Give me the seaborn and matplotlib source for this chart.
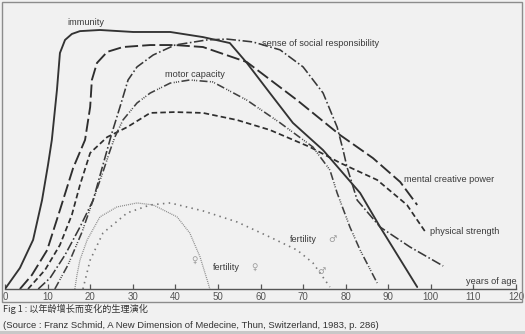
import matplotlib
matplotlib.use("Agg")
import matplotlib.pyplot as plt
import seaborn as sns
import pandas as pd
from matplotlib.patches import Rectangle

# ---------------- data (age in years, relative level 0-100) ----------------
immunity_age = [0, 3.5, 6.6, 8.7, 10.1, 11.0, 12.2, 12.9, 14.1, 15.7, 17.6, 22.3, 30.1, 38.8,
                46.5, 52.8, 56.8, 62.2, 67.6, 74.7, 83.4, 88.1, 96.8]
immunity_val = [0, 7.4, 17.3, 31.3, 43.7, 52.5, 70.1, 83.1, 87.7, 89.8, 90.8, 91.2, 90.5, 90.5,
                88.7, 86.6, 79.6, 69.0, 58.5, 48.9, 33.8, 21.8, 0.7]

mental_age = [3.5, 6.3, 9.9, 12.9, 16.0, 18.8, 20.0, 20.4, 21.6, 24.0, 27.7, 34.1, 39.9, 46.5,
              56.8, 68.6, 78.7, 86.4, 92.8, 96.8]
mental_val = [0, 4.9, 13.7, 27.8, 42.6, 52.5, 64.1, 73.6, 79.6, 83.5, 85.2, 85.9, 85.9, 85.2,
              79.9, 66.5, 54.2, 46.1, 37.7, 29.6]

physical_age = [5.4, 9.4, 12.9, 15.7, 17.6, 20.0, 24.0, 28.7, 34.1, 39.9, 46.5, 54.5, 62.2,
                71.6, 78.7, 87.4, 94.4, 96.8, 98.9]
physical_val = [0, 6.7, 15.5, 26.1, 36.6, 47.9, 53.5, 57.0, 62.0, 62.3, 62.0, 59.5, 56.0,
                50.0, 44.4, 38.4, 29.6, 24.3, 19.7]

social_age = [7.8, 10.6, 14.1, 17.6, 20.7, 23.0, 25.1, 27.0, 28.9, 31.0, 34.8, 39.9, 47.4, 52.1,
              58.2, 64.6, 70.0, 74.7, 78.0, 79.4, 80.3, 82.7, 88.1, 95.1, 102.9]
social_val = [0, 3.9, 12.0, 21.8, 31.3, 43.7, 54.9, 64.1, 73.6, 78.2, 82.4, 85.9, 87.7, 88.0,
              87.0, 84.2, 78.2, 69.0, 57.0, 48.9, 43.0, 31.3, 21.8, 14.8, 8.1]

motor_age = [11.7, 14.8, 18.1, 21.1, 23.0, 24.7, 25.8, 27.7, 31.0, 34.1, 38.8, 43.4, 48.8, 56.8,
             64.6, 72.3, 76.3, 78.0, 81.0, 83.4, 87.4]
motor_val = [0, 8.5, 20.1, 33.1, 41.2, 48.9, 53.5, 59.5, 65.5, 69.0, 72.5, 73.6, 72.9, 66.5,
             58.5, 50.0, 41.9, 33.8, 21.8, 13.7, 2.1]

fert_f_age = [16.4, 16.9, 17.6, 19.3, 22.3, 26.3, 31.0, 34.8, 40.4, 43.4, 45.8, 47.7, 48.1]
fert_f_val = [0, 4.9, 10.2, 17.3, 25.4, 28.9, 30.3, 29.6, 25.4, 19.7, 11.3, 2.1, 0]

fert_m_age = [18.3, 20.0, 23.0, 28.7, 34.1, 38.8, 46.5, 54.5, 62.2, 68.6, 72.3, 76.3]
fert_m_val = [0, 10.2, 19.7, 26.8, 29.6, 30.3, 27.5, 23.6, 18.3, 13.7, 9.2, 0.7]

x_ticks = [0, 10, 20, 30, 40, 50, 60, 70, 80, 90, 100, 110, 120]

caption_1 = "Fig 1 : 以年龄增长而变化的生理演化"
caption_2 = "(Source : Franz Schmid, A New Dimension of Medecine, Thun, Switzerland, 1983, p. 286)"

# ---------------- figure ----------------
sns.set_theme(style="white")
plt.rcParams["font.family"] = ["Liberation Sans", "DejaVu Sans"]

BG = "#f1f1f1"
fig = plt.figure(figsize=(5.25, 3.34), dpi=100, facecolor=BG)
ax = fig.add_axes([5 / 525, 45 / 334, 511 / 525, 284 / 334])
ax.set_facecolor(BG)
ax.patch.set_alpha(0)

series = [
    ("immunity", immunity_age, immunity_val, "#333333", 1.35, (None, None)),
    ("mental creative power", mental_age, mental_val, "#2e2e2e", 1.35, (7, 2.2)),
    ("physical strength", physical_age, physical_val, "#2e2e2e", 1.25, (3.2, 1.8)),
    ("sense of social responsibility", social_age, social_val, "#383838", 1.15, (6, 1.6, 1, 1.6)),
    ("motor capacity", motor_age, motor_val, "#404040", 1.15, (5, 1.5, 0.6, 0.8, 0.6, 0.8, 0.6, 1.5)),
    ("fertility female", fert_f_age, fert_f_val, "#8a8a8a", 0.9, (0.8, 0.8)),
    ("fertility male", fert_m_age, fert_m_val, "#777777", 1.2, (0.9, 2.6)),
]

for name, xs, ys, col, lw, dash in series:
    df = pd.DataFrame({"age": xs, "level": ys})
    sns.lineplot(data=df, x="age", y="level", ax=ax, color=col, lw=lw,
                 sort=False, estimator=None, legend=False)
    line = ax.lines[-1]
    if dash[0] is not None:
        line.set_dashes(dash)
    line.set_solid_joinstyle("round")
    line.set_dash_joinstyle("round")

ax.set_xlim(0, 120)
ax.set_ylim(0, 100)
ax.set_xlabel("")
ax.set_ylabel("")
ax.set_yticks([])
ax.set_xticks(x_ticks)
ax.set_xticklabels([str(t) for t in x_ticks])
for s in ["left", "top", "right"]:
    ax.spines[s].set_visible(False)
ax.spines["bottom"].set_color("#555555")
ax.spines["bottom"].set_linewidth(1.0)
ax.tick_params(axis="x", direction="in", length=3.8, width=0.9, color="#555555",
               labelsize=7.0, labelcolor="#555555", pad=2.5, bottom=True)

txt = dict(fontsize=6.6, color="#3a3a3a", va="center", ha="left")
ax.text(14.6, 94.0, "immunity", **txt)
ax.text(60.4, 86.3, "sense of social responsibility", **txt)
ax.text(37.6, 75.4, "motor capacity", **txt)
ax.text(93.7, 38.4, "mental creative power", **txt)
ax.text(99.8, 20.1, "physical strength", **txt)
ax.text(66.9, 17.6, "fertility", **txt)
ax.text(48.8, 7.7, "fertility", **txt)
sym = dict(color="#999999", va="center", family=["DejaVu Sans"])
ax.text(76.0, 17.6, "♂", fontsize=6.6, ha="left", **sym)
ax.text(57.9, 7.7, "♀", fontsize=6.2, ha="left", **sym)
ax.text(44.6, 10.2, "♀", fontsize=6.2, ha="center", **sym)
ax.text(74.4, 6.3, "♂", fontsize=6.6, ha="center", **sym)
ax.text(108.3, 2.5, "years of age", **txt)

# frame of the scanned figure
fig.patches.append(Rectangle((2 / 525, 1 - 302 / 334), 520 / 525, 300 / 334,
                             transform=fig.transFigure, fill=False,
                             edgecolor="#8c8c8c", lw=1.0))
fig.patches.append(Rectangle((0, 0), 1, 3 / 334, transform=fig.transFigure,
                             facecolor="#c8c8c8", edgecolor="none"))

fig.text(3 / 525, 1 - 309 / 334, caption_1, fontsize=6.6, color="#333333", va="center",
         ha="left", family=["Noto Sans CJK SC", "DejaVu Sans"])
fig.text(3 / 525, 1 - 325 / 334, caption_2, fontsize=6.8, color="#333333", va="center",
         ha="left", family=["Liberation Sans", "DejaVu Sans"])

fig.savefig("out.png", dpi=100, facecolor=BG)
